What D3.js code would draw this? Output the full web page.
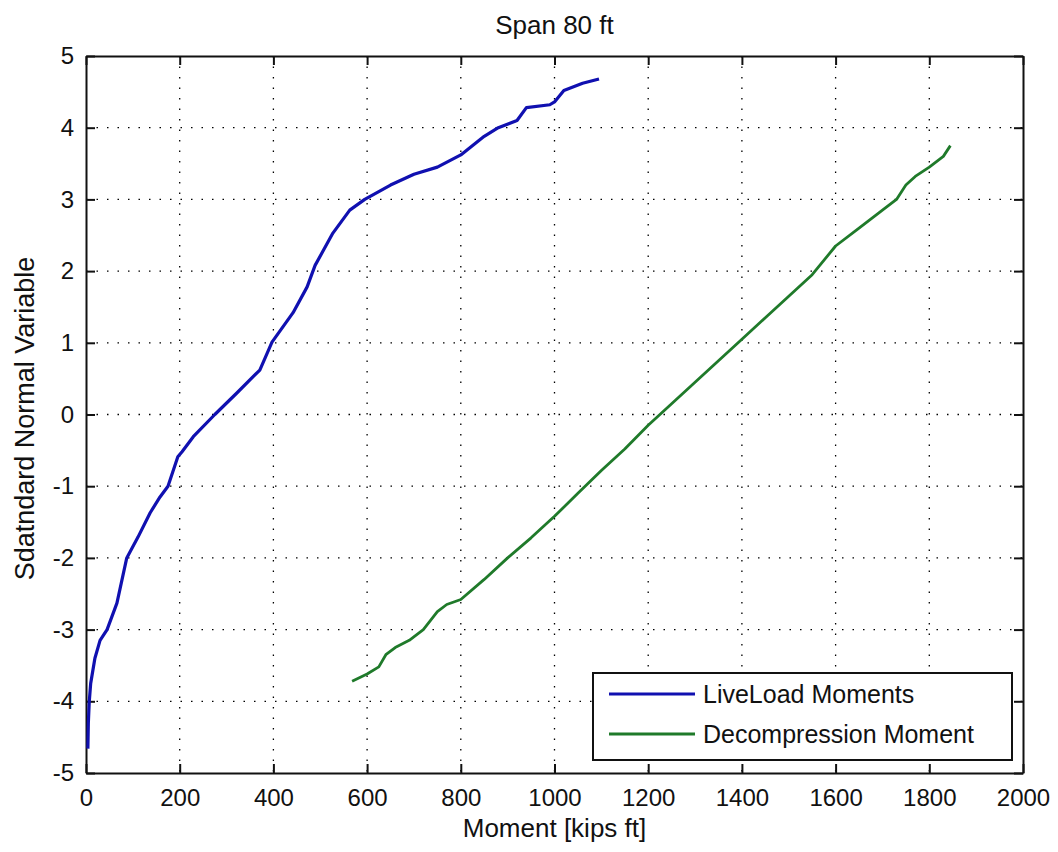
<!DOCTYPE html>
<head>
    <meta charset="utf-8">
    <title>Span 80 ft</title>
    <style>
        body { margin: 0; background: #fff; }
        text {
            font-family: "Liberation Sans", Arial, sans-serif;
            fill: #111;
        }
    </style>
    <script src="https://d3js.org/d3.v7.min.js"></script>
</head>
<body>
    <script>
        // values
        var liveMoment = [4, 5, 7, 10, 19, 30, 45, 66, 87, 111, 137, 158, 175, 196, 205, 229, 275, 322, 371, 397, 442, 472, 489, 527, 563, 595, 650, 700, 750, 800, 850, 880, 920, 940, 990, 1000, 1020, 1060, 1095];
        var liveZ = [-4.66, -4.3, -4.0, -3.75, -3.4, -3.15, -3.0, -2.63, -2.0, -1.71, -1.37, -1.15, -1.0, -0.59, -0.52, -0.31, 0.0, 0.3, 0.62, 1.01, 1.42, 1.78, 2.08, 2.53, 2.85, 3.0, 3.2, 3.35, 3.45, 3.62, 3.88, 4.0, 4.1, 4.28, 4.32, 4.36, 4.52, 4.62, 4.68];

        var decompMoment = [568, 600, 625, 640, 660, 690, 720, 750, 770, 800, 850, 900, 950, 1000, 1050, 1100, 1150, 1200, 1250, 1300, 1350, 1400, 1450, 1500, 1550, 1600, 1650, 1700, 1730, 1750, 1770, 1800, 1830, 1845];
        var decompZ = [-3.72, -3.62, -3.52, -3.35, -3.25, -3.15, -3.0, -2.75, -2.65, -2.58, -2.3, -2.0, -1.72, -1.42, -1.1, -0.78, -0.48, -0.15, 0.15, 0.45, 0.75, 1.05, 1.35, 1.65, 1.95, 2.35, 2.6, 2.85, 3.0, 3.2, 3.32, 3.45, 3.6, 3.75];

        var xTicks = [0, 200, 400, 600, 800, 1000, 1200, 1400, 1600, 1800, 2000];
        var yTicks = [-5, -4, -3, -2, -1, 0, 1, 2, 3, 4, 5];

        var seriesNames = ["LiveLoad Moments", "Decompression Moment"];
        var seriesColors = ["#1010b0", "#1f7a2a"];

        var margin = { top: 56, right: 35, bottom: 79, left: 86 },
            width = 1058 - margin.left - margin.right,
            height = 852 - margin.top - margin.bottom;

        var x = d3.scaleLinear().domain([0, 2000]).range([0, width]);
        var y = d3.scaleLinear().domain([-5, 5]).range([height, 0]);

        var svg = d3.select("body")
            .append("svg")
            .attr("width", 1058)
            .attr("height", 852);

        var plot = svg.append("g")
            .attr("transform", "translate(" + margin.left + "," + margin.top + ")");

        // dotted grid
        var grid = plot.append("g")
            .attr("stroke", "#000")
            .attr("stroke-width", 1.3)
            .attr("stroke-dasharray", "1.5,9");
        grid.selectAll(".gx")
            .data(xTicks.slice(1, -1))
            .enter().append("line")
            .attr("x1", d => x(d)).attr("x2", d => x(d))
            .attr("y1", 0).attr("y2", height);
        grid.selectAll(".gy")
            .data(yTicks.slice(1, -1))
            .enter().append("line")
            .attr("y1", d => y(d)).attr("y2", d => y(d))
            .attr("x1", 0).attr("x2", width);

        // axes, ticks inward on all four sides
        var fmt = d => String(d);   // plain hyphen minus like the original
        var axBottom = plot.append("g")
            .attr("transform", "translate(0," + height + ")")
            .call(d3.axisBottom(x).tickValues(xTicks).tickFormat(fmt).tickSizeInner(-9).tickSizeOuter(0).tickPadding(16));
        var axTop = plot.append("g")
            .call(d3.axisTop(x).tickValues(xTicks).tickSizeInner(-9).tickSizeOuter(0).tickFormat(""));
        var axLeft = plot.append("g")
            .call(d3.axisLeft(y).tickValues(yTicks).tickFormat(fmt).tickSizeInner(-9).tickSizeOuter(0).tickPadding(12));
        var axRight = plot.append("g")
            .attr("transform", "translate(" + width + ",0)")
            .call(d3.axisRight(y).tickValues(yTicks).tickSizeInner(-9).tickSizeOuter(0).tickFormat(""));

        [axBottom, axTop, axLeft, axRight].forEach(function (a) {
            a.select(".domain").attr("stroke", "#111").attr("stroke-width", 2);
            a.selectAll(".tick line").attr("stroke", "#111").attr("stroke-width", 2);
            a.selectAll(".tick text").attr("font-size", 24).attr("fill", "#111")
                .attr("font-family", "'Liberation Sans', Arial, sans-serif");
        });

        // curves
        var line = d3.line()
            .x(d => x(d[0]))
            .y(d => y(d[1]));

        var liveData = liveMoment.map((m, i) => [m, liveZ[i]]);
        var decompData = decompMoment.map((m, i) => [m, decompZ[i]]);

        plot.append("path")
            .datum(liveData)
            .attr("fill", "none")
            .attr("stroke", seriesColors[0])
            .attr("stroke-width", 3.2)
            .attr("stroke-linejoin", "round")
            .attr("d", line);

        plot.append("path")
            .datum(decompData)
            .attr("fill", "none")
            .attr("stroke", seriesColors[1])
            .attr("stroke-width", 2.8)
            .attr("stroke-linejoin", "round")
            .attr("d", line);

        // legend
        var legend = plot.append("g")
            .attr("transform", "translate(" + (593 - margin.left) + "," + (673 - margin.top) + ")");
        legend.append("rect")
            .attr("width", 419).attr("height", 87)
            .attr("fill", "#fff")
            .attr("stroke", "#111").attr("stroke-width", 2);
        var items = legend.selectAll(".item")
            .data(seriesNames)
            .enter().append("g")
            .attr("transform", (d, i) => "translate(0," + (21 + i * 40) + ")");
        items.append("line")
            .attr("x1", 16).attr("x2", 102)
            .attr("stroke", (d, i) => seriesColors[i])
            .attr("stroke-width", 3);
        items.append("text")
            .attr("x", 110).attr("dy", "0.35em")
            .attr("font-size", 25)
            .text(d => d);

        // titles
        svg.append("text")
            .attr("x", margin.left + width / 2).attr("y", 34)
            .attr("text-anchor", "middle")
            .attr("font-size", 26)
            .text("Span 80 ft");

        svg.append("text")
            .attr("x", margin.left + width / 2).attr("y", 837)
            .attr("text-anchor", "middle")
            .attr("font-size", 26)
            .text("Moment [kips ft]");

        svg.append("text")
            .attr("transform", "translate(34," + (margin.top + height / 2 + 4) + ") rotate(-90)")
            .attr("text-anchor", "middle")
            .attr("font-size", 27)
            .text("Sdatndard Normal Variable");
    </script>
</body>
